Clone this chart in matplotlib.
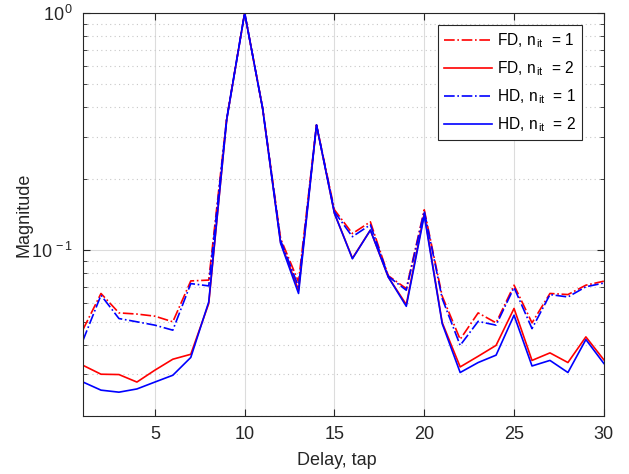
import numpy as np
import matplotlib.pyplot as plt
from matplotlib.ticker import LogLocator, NullFormatter, FixedLocator, FixedFormatter

plt.rcParams['font.family'] = 'Liberation Sans'
plt.rcParams['mathtext.fontset'] = 'custom'
plt.rcParams['mathtext.rm'] = 'Liberation Sans'
plt.rcParams['mathtext.it'] = 'Liberation Sans'

# Taps 1..30 and channel magnitude per receiver / iteration count
taps = np.arange(1, 31)

fd_it1 = [0.0463, 0.0657, 0.0544, 0.0538, 0.0527, 0.0499, 0.0742, 0.0748, 0.360, 1.0,
          0.398, 0.112, 0.0735, 0.337, 0.148, 0.1175, 0.1317, 0.0780, 0.0689, 0.148,
          0.0640, 0.0421, 0.0544, 0.0494, 0.0712, 0.0494, 0.0657, 0.0650, 0.0712, 0.0740]
fd_it2 = [0.0327, 0.0300, 0.0299, 0.0278, 0.0312, 0.0347, 0.0364, 0.0596, 0.355, 1.0,
          0.396, 0.108, 0.0678, 0.337, 0.143, 0.0925, 0.1215, 0.0770, 0.0590, 0.143,
          0.0495, 0.0322, 0.0357, 0.0397, 0.0568, 0.0343, 0.0369, 0.0336, 0.0431, 0.0345]
hd_it1 = [0.0417, 0.0646, 0.0515, 0.0499, 0.0483, 0.0460, 0.0723, 0.0707, 0.358, 1.0,
          0.397, 0.110, 0.0701, 0.337, 0.145, 0.1140, 0.1280, 0.0775, 0.0678, 0.146,
          0.0625, 0.0397, 0.0501, 0.0483, 0.0696, 0.0467, 0.0650, 0.0635, 0.0701, 0.0727]
hd_it2 = [0.0278, 0.0257, 0.0252, 0.0260, 0.0278, 0.0297, 0.0353, 0.0605, 0.355, 1.0,
          0.396, 0.107, 0.0657, 0.337, 0.143, 0.0920, 0.1215, 0.0770, 0.0580, 0.140,
          0.0490, 0.0305, 0.0336, 0.0361, 0.0532, 0.0325, 0.0343, 0.0305, 0.0420, 0.0333]

ytick_vals = [0.1, 1.0]
ytick_text = [r'10$^{\,-1}$', r'10$^{\,0}$']

fig = plt.figure(figsize=(6.29, 4.74), dpi=100)
ax = fig.add_axes([0.132, 0.1224, 0.828, 0.8502])

lw = 1.2
ax.semilogy(taps, fd_it1, '-.', color='#ff0000', lw=lw, label=r'FD, n$_{\,\rm it}$  = 1')
ax.semilogy(taps, fd_it2, '-', color='#ff0000', lw=lw, label=r'FD, n$_{\,\rm it}$  = 2')
ax.semilogy(taps, hd_it1, '-.', color='#0000ff', lw=lw, label=r'HD, n$_{\,\rm it}$  = 1')
ax.semilogy(taps, hd_it2, '-', color='#0000ff', lw=lw, label=r'HD, n$_{\,\rm it}$  = 2')

ax.set_xlim(1, 30)
ax.set_ylim(0.02, 1)
ax.set_xticks([5, 10, 15, 20, 25, 30])
ax.yaxis.set_major_locator(FixedLocator(ytick_vals))
ax.yaxis.set_major_formatter(FixedFormatter(ytick_text))
ax.yaxis.set_minor_locator(LogLocator(base=10, subs=np.arange(2, 10)))
ax.yaxis.set_minor_formatter(NullFormatter())

ax.grid(True, which='major', color='#dcdcdc', lw=0.8)
ax.grid(True, which='minor', axis='y', color='#c8c8c8', lw=0.8, ls=(0, (1, 3)))
ax.set_axisbelow(True)

ax.tick_params(which='both', direction='in', top=True, right=True,
               labelsize=13, colors='#262626', labelcolor='#262626', pad=7)
ax.tick_params(which='major', length=5)
ax.tick_params(which='minor', length=3)
for s in ax.spines.values():
    s.set_color('#262626')
    s.set_linewidth(0.8)

ax.set_xlabel('Delay, tap', fontsize=13, color='#262626')
ax.set_ylabel('Magnitude', fontsize=13, color='#262626')
ax.xaxis.set_label_coords(0.488, -0.09)
ax.yaxis.set_label_coords(-0.097, 0.5)

leg = ax.legend(loc='upper left', bbox_to_anchor=(0.681, 0.970), borderaxespad=0,
                fontsize=11.2, fancybox=False, framealpha=1, edgecolor='#262626',
                handlelength=3.1, handletextpad=0.3, labelspacing=0.6,
                borderpad=0.4)
leg.get_frame().set_linewidth(0.8)

fig.savefig('out.png', dpi=100)
